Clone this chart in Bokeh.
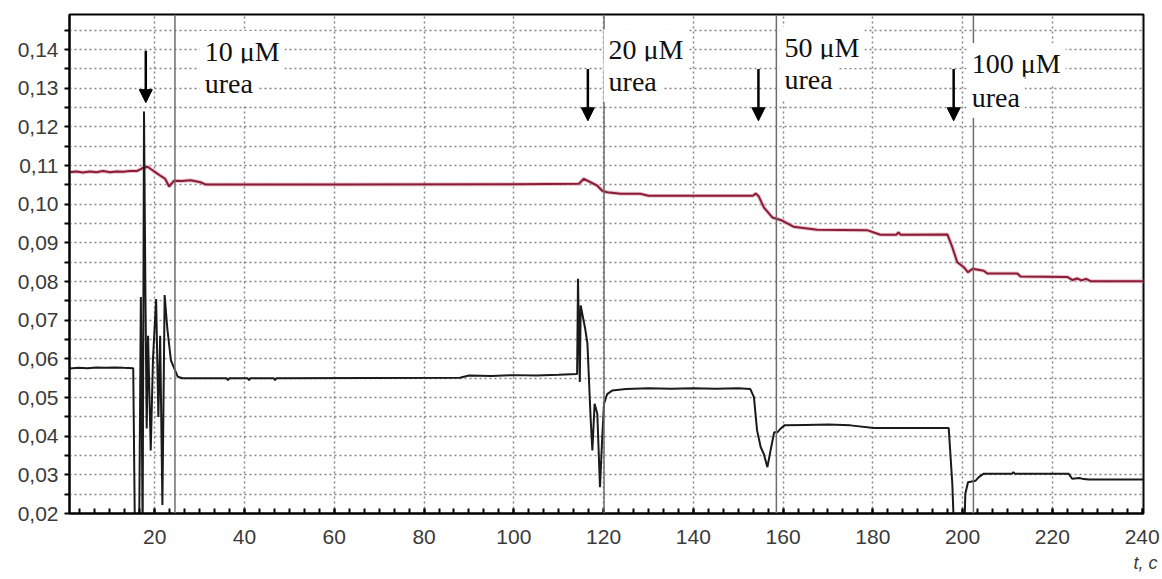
from bokeh.plotting import figure
from bokeh.models import ColumnDataSource, FixedTicker, Span, Label, Arrow, NormalHead, Range1d, Title
from bokeh.embed import file_html
from bokeh.resources import INLINE
import numpy as np

# ---- data ----
red_points = [
    (1, 0.1083), (2.5, 0.1085), (4, 0.1082), (5.5, 0.1085), (7, 0.1083), (8.5, 0.1086),
    (10, 0.1083), (11.5, 0.1085), (13, 0.1084), (14.5, 0.1086), (16, 0.1086), (17.2, 0.1093),
    (18.4, 0.1097), (19.5, 0.1088), (20.5, 0.1080), (21.5, 0.1072), (22.3, 0.1066), (23.2, 0.1046),
    (24.3, 0.1061), (26, 0.1060), (28, 0.1062), (30.2, 0.1057), (31.4, 0.1051), (60, 0.1051),
    (100, 0.1052), (114.5, 0.1053), (115.6, 0.1066), (117.1, 0.1057), (118.6, 0.1048),
    (119.7, 0.1035), (120.8, 0.1031), (123.8, 0.1027), (128.2, 0.1027), (130, 0.1022),
    (153.3, 0.1022), (153.9, 0.1028), (154.6, 0.1020), (155.7, 0.0992), (157.6, 0.0966),
    (159.8, 0.0958), (162.3, 0.0942), (167.6, 0.0934), (178.7, 0.0933), (181.7, 0.0921),
    (185.2, 0.0921), (185.7, 0.0927), (186.2, 0.0921), (196.6, 0.0922), (197.7, 0.0889),
    (198.8, 0.0850), (200.3, 0.0837), (201.2, 0.0824), (202.2, 0.0833), (204.7, 0.0828),
    (205.5, 0.0821), (212.2, 0.0821), (212.9, 0.0813), (223.3, 0.0812), (224.5, 0.0804),
    (225.5, 0.0808), (226.5, 0.0803), (227.5, 0.0807), (228.5, 0.0801), (240.3, 0.0801),
]

black_points = [
    (1, 0.0575), (3, 0.0577), (5, 0.0576), (7, 0.0578), (9, 0.0577), (11, 0.0578), (13, 0.0577),
    (15.2, 0.0576), (15.6, 0.012), (16.5, 0.012), (16.9, 0.076), (17.3, 0.015), (17.6, 0.124),
    (17.9, 0.079), (18.2, 0.042), (18.5, 0.066), (19.1, 0.0363), (19.6, 0.060), (20.3, 0.0755),
    (20.8, 0.045), (21.2, 0.066), (21.7, 0.0222), (22.2, 0.0765), (22.8, 0.0678), (23.6, 0.0596),
    (25.1, 0.0554), (26.2, 0.0550), (36, 0.0550), (36.3, 0.0545), (36.6, 0.0550), (40.7, 0.0550),
    (41, 0.0545), (41.3, 0.0550), (46.5, 0.0550), (46.8, 0.0545), (47.1, 0.0550), (88, 0.0551),
    (90, 0.0557), (95, 0.0556), (100, 0.0558), (105, 0.0557), (110, 0.0559), (114.1, 0.0561),
    (114.3, 0.0807), (114.7, 0.0540), (114.9, 0.0738), (115.9, 0.0678), (116.4, 0.0640),
    (117.1, 0.0449), (117.5, 0.0363), (118.0, 0.0484), (118.6, 0.0458), (119.2, 0.0268),
    (119.7, 0.0397), (120.1, 0.0484), (120.8, 0.0509), (121.9, 0.0518), (125, 0.0522),
    (130, 0.0524), (135, 0.0523), (140, 0.0524), (145, 0.0523), (150, 0.0524), (152.7, 0.0522),
    (153.5, 0.0501), (154.2, 0.0415), (155.0, 0.0372), (155.7, 0.0354), (156.5, 0.0320),
    (157.2, 0.0363), (158.0, 0.0410), (158.7, 0.0410), (159.4, 0.0419), (160.3, 0.0428),
    (165, 0.0429), (170, 0.0430), (175, 0.0428), (180.2, 0.0421), (196.9, 0.0421),
    (197.7, 0.0277), (198.2, 0.012), (200.3, 0.012), (200.6, 0.0251), (201.2, 0.0281),
    (202.9, 0.0285), (203.6, 0.0294), (204.7, 0.0303), (211.0, 0.0303), (211.3, 0.0307),
    (211.6, 0.0303), (223.6, 0.0303), (224.4, 0.0290), (226, 0.0292), (227, 0.0289),
    (228.1, 0.0288), (240.3, 0.0288),
]

y_ticks = [0.02, 0.03, 0.04, 0.05, 0.06, 0.07, 0.08, 0.09, 0.10, 0.11, 0.12, 0.13, 0.14]
y_labels = ["0,02", "0,03", "0,04", "0,05", "0,06", "0,07", "0,08", "0,09", "0,10",
            "0,11", "0,12", "0,13", "0,14"]
x_ticks = [20, 40, 60, 80, 100, 120, 140, 160, 180, 200, 220, 240]
x_axis_label = "t, c"

# additions of urea: arrow positions and text
add_t = [18.0, 116.5, 154.5, 198.0]
arrow_top = [0.1397, 0.1350, 0.1350, 0.1350]
arrow_tip = [0.1263, 0.1216, 0.1216, 0.1216]
text_t = [30.0, 120.0, 159.2, 200.9]
text_v1 = [0.1395, 0.1400, 0.1406, 0.1364]
text_v2 = [0.1312, 0.1317, 0.1322, 0.1277]
text_line1 = ["10 μM", "20 μM", "50 μM", "100 μM"]
text_line2 = ["urea", "urea", "urea", "urea"]
marker_t = [24.5, 120.1, 158.5, 202.4]

# ---- figure ----
p = figure(width=1162, height=579, x_range=Range1d(1, 240.3), y_range=Range1d(0.02, 0.1491),
           output_backend="svg", toolbar_location=None,
           min_border_left=69, min_border_right=19, min_border_top=14, min_border_bottom=66)
p.background_fill_color = "white"
p.border_fill_color = "white"
p.outline_line_color = "black"
p.outline_line_width = 2

grid_col = "#858585"
p.xgrid.grid_line_color = grid_col
p.xgrid.grid_line_dash = "2 3"
p.xgrid.grid_line_width = 1.5
p.ygrid.grid_line_color = grid_col
p.ygrid.grid_line_dash = "2 3"
p.ygrid.grid_line_width = 1.5
p.ygrid.minor_grid_line_color = grid_col
p.ygrid.minor_grid_line_dash = "2 3"
p.ygrid.minor_grid_line_width = 1.5

y_minor = [round(v + 0.005, 3) for v in y_ticks]
x_minor = list(np.arange(0, 241, 20 / 6))
p.yaxis.ticker = FixedTicker(ticks=y_ticks, minor_ticks=y_minor)
p.xaxis.ticker = FixedTicker(ticks=x_ticks, minor_ticks=x_minor)
p.yaxis.major_label_overrides = {t: l for t, l in zip(y_ticks, y_labels)}

for ax in (p.xaxis[0], p.yaxis[0]):
    ax.axis_line_color = "black"
    ax.axis_line_width = 2
    ax.major_tick_line_color = "black"
    ax.minor_tick_line_color = "black"
    ax.major_tick_line_width = 2
    ax.minor_tick_line_width = 2
    ax.major_label_text_font = "Liberation Sans"
    ax.major_label_text_font_size = "21px"
    ax.major_label_text_color = "#3a3a3a"

p.yaxis.major_tick_out = 5
p.yaxis.major_tick_in = 0
p.yaxis.minor_tick_out = 5
p.yaxis.minor_tick_in = 0
p.yaxis.major_label_standoff = 6

p.xaxis.major_tick_out = 0
p.xaxis.major_tick_in = 5
p.xaxis.minor_tick_out = 0
p.xaxis.minor_tick_in = 5
p.xaxis.major_label_standoff = 16

for t in marker_t:
    p.add_layout(Span(location=t, dimension="height", line_color="#6e6e6e", line_width=1.5))

red_src = ColumnDataSource(dict(t=[a for a, b in red_points], v=[b for a, b in red_points]))
blk_src = ColumnDataSource(dict(t=[a for a, b in black_points], v=[b for a, b in black_points]))

p.line("t", "v", source=red_src, line_color="#d9a0ae", line_width=4, line_alpha=0.6)
p.line("t", "v", source=red_src, line_color="#8c1c36", line_width=2)
p.line("t", "v", source=blk_src, line_color="#1a1a1a", line_width=2)

for i in range(len(add_t)):
    for txt, yv in ((text_line1[i], text_v1[i]), (text_line2[i], text_v2[i])):
        p.add_layout(Label(x=text_t[i], y=yv, text=txt, text_font="Liberation Serif",
                           text_font_size="28px", text_color="#111111",
                           text_baseline="alphabetic", text_align="left",
                           background_fill_color="white", padding=5))
    p.add_layout(Arrow(x_start=add_t[i], y_start=arrow_top[i], x_end=add_t[i], y_end=arrow_tip[i],
                       line_color="black", line_width=2.5,
                       end=NormalHead(size=13, fill_color="black", line_color="black")))

p.add_layout(Title(text=x_axis_label, align="right", text_font="Liberation Sans",
                   text_font_style="italic", text_font_size="18px", text_color="#3a3a3a",
                   standoff=8, offset=-14), "below")

open("out.html", "w").write(file_html(p, INLINE))
